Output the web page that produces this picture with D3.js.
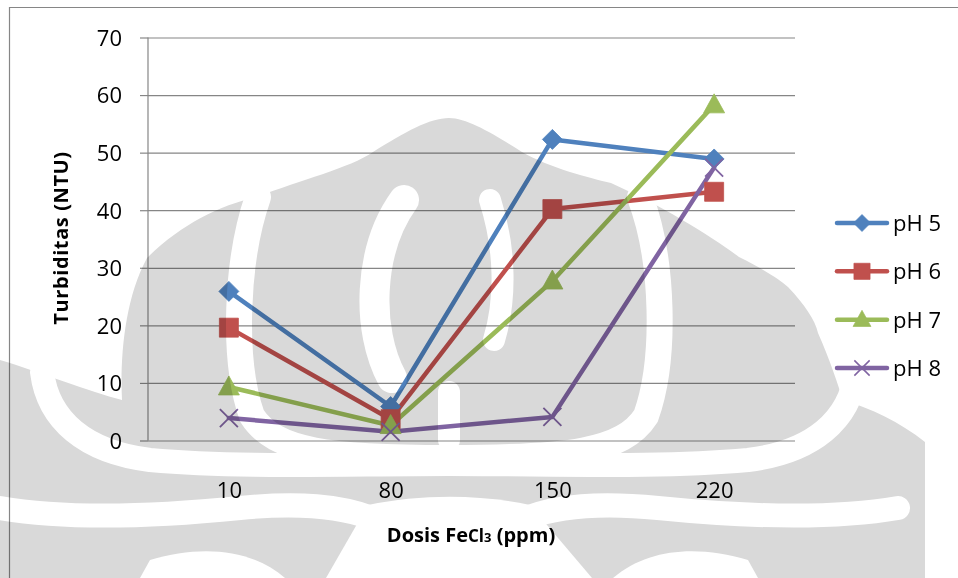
<!DOCTYPE html>
<html>
<head>
<meta charset="utf-8">
<script src="https://cdn.jsdelivr.net/npm/d3@7"></script>
<style>
  html, body { margin: 0; padding: 0; background: #ffffff; }
  svg { display: block; }
  text { font-family: "Open Sans", "Noto Sans", sans-serif; fill: #000; }
</style>
</head>
<body>
<svg id="chart" width="958" height="578"></svg>
<script>
// Dose categories (ppm FeCl3) and turbidity readings (NTU) per pH
const categories = ["10", "80", "150", "220"];
const seriesNames = ["pH 5", "pH 6", "pH 7", "pH 8"];
const pH5 = [25.9, 5.9, 52.3, 48.9];
const pH6 = [19.6, 3.7, 40.2, 43.2];
const pH7 = [9.3, 2.6, 27.7, 58.3];
const pH8 = [3.9, 1.5, 4.1, 47.4];
const yTicks = [0, 10, 20, 30, 40, 50, 60, 70];

const series = [
  { name: seriesNames[0], values: pH5, color: "#4F81BD", marker: "diamond" },
  { name: seriesNames[1], values: pH6, color: "#C0504D", marker: "square" },
  { name: seriesNames[2], values: pH7, color: "#9BBB59", marker: "triangle" },
  { name: seriesNames[3], values: pH8, color: "#8064A2", marker: "cross" }
];

const svg = d3.select("#chart");
const plot = { left: 148, right: 795, top: 37.5, bottom: 440.5 };
const gridColor = "#868686";

const x = d3.scalePoint().domain(categories).range([plot.left, plot.right]).padding(0.5);
const y = d3.scaleLinear().domain([0, 70]).range([plot.bottom, plot.top]);

// outer chart frame
svg.append("path")
  .attr("d", "M9.5,578 L9.5,7.5 L958,7.5")
  .attr("fill", "none").attr("stroke", gridColor).attr("stroke-width", 1.2);

// y axis with gridlines
const yAxis = d3.axisLeft(y).tickValues(yTicks).tickSize(8).tickPadding(18).tickFormat(d3.format("d"));
const gy = svg.append("g").attr("transform", `translate(${plot.left},0)`).call(yAxis);
gy.select(".domain").attr("stroke", gridColor).attr("stroke-width", 1.2).attr("d", `M0,${plot.top}V${plot.bottom}`);
gy.selectAll(".tick line").attr("stroke", gridColor).attr("stroke-width", 1.2);
gy.selectAll(".tick").append("line")
  .attr("x1", 0).attr("x2", plot.right - plot.left)
  .attr("stroke", gridColor).attr("stroke-width", 1.2);
gy.selectAll(".tick text").attr("font-size", 22).attr("font-family", "Open Sans").attr("fill", "#000").attr("dy", "0.36em");

// x axis labels
const xAxis = d3.axisBottom(x).tickSize(0).tickPadding(42);
const gx = svg.append("g").attr("transform", `translate(0,${plot.bottom})`).call(xAxis);
gx.select(".domain").remove();
gx.selectAll(".tick text").attr("font-size", 22).attr("font-family", "Open Sans").attr("fill", "#000");

// axis titles
svg.append("text")
  .attr("transform", "translate(68,238) rotate(-90)")
  .attr("text-anchor", "middle")
  .attr("font-size", 20).attr("font-weight", "bold").attr("letter-spacing", "0.6")
  .text("Turbiditas (NTU)");

const xt = svg.append("text").attr("x", 471).attr("y", 542).attr("text-anchor", "middle")
  .attr("font-weight", "bold").attr("font-size", 20);
xt.append("tspan").text("Dosis Fe");
xt.append("tspan").attr("font-size", 17).text("Cl");
xt.append("tspan").attr("font-size", 13).text("3");
xt.append("tspan").text(" (ppm)");

// marker symbols
function markerPath(type) {
  if (type === "diamond") return "M0,-10L10,0L0,10L-10,0Z";
  if (type === "square") return "M-9.5,-9.5H9.5V9.5H-9.5Z";
  if (type === "triangle") return "M0,-11L10.5,8L-10.5,8Z";
  return "M-9,-9L9,9M-9,9L9,-9";
}
function drawMarker(g, s, cx, cy, scale) {
  const p = g.append("path")
    .attr("d", markerPath(s.marker))
    .attr("transform", `translate(${cx},${cy}) scale(${scale})`);
  if (s.marker === "cross") p.attr("fill", "none").attr("stroke", s.color).attr("stroke-width", 1.8);
  else p.attr("fill", s.color).attr("stroke", s.color).attr("stroke-width", 0.8);
}

// series lines and markers
const line = d3.line().x((d, i) => x(categories[i])).y(d => y(d));
const gs = svg.append("g");
series.forEach(s => {
  gs.append("path").datum(s.values).attr("d", line)
    .attr("fill", "none").attr("stroke", s.color).attr("stroke-width", 4.5)
    .attr("stroke-linejoin", "round").attr("stroke-linecap", "round");
});
series.forEach(s => {
  s.values.forEach((v, i) => drawMarker(gs, s, x(categories[i]), y(v), 1));
});

// legend
const legendRows = d3.scaleLinear().domain([0, 3]).range([223, 368]);
const lg = svg.append("g");
series.forEach((s, i) => {
  const ly = legendRows(i);
  lg.append("line").attr("x1", 837).attr("x2", 887).attr("y1", ly).attr("y2", ly)
    .attr("stroke", s.color).attr("stroke-width", 4.5).attr("stroke-linecap", "round");
  drawMarker(lg, s, 862, ly, 0.85);
  lg.append("text").attr("x", 893).attr("y", ly).attr("dy", "0.36em")
    .attr("font-size", 22).text(s.name);
});

// faint emblem printed behind the page content (multiplied over the chart)
const crestFill =
  "M0,360 C40,372 90,392 122,400 C120,360 124,300 147,258 C180,225 220,205 257,197 " +
  "C300,180 350,168 373,152 C405,132 430,118 449,118 C468,118 495,135 522,152 " +
  "C550,168 590,178 611,183 C660,205 710,235 739,257 C765,270 780,280 788,287 " +
  "C805,305 815,320 818,333 C830,360 838,385 843,400 C870,408 900,422 925,442 " +
  "L925,578 L0,578 Z";
const crestCuts = [
  { d: "M258,197 C236,260 232,360 252,416 C275,452 330,458 449,458 C568,458 623,452 646,416 C666,360 664,260 640,197", w: 26 },
  { d: "M404,200 C368,250 366,330 392,378", w: 30 },
  { d: "M490,200 C506,250 506,300 494,340", w: 22 },
  { d: "M449,392 L449,440", w: 22 },
  { d: "M42,372 C48,420 85,452 150,460 C240,468 340,464 449,464", w: 24 },
  { d: "M856,372 C850,420 813,452 748,460 C658,468 558,464 449,464", w: 24 },
  { d: "M0,508 C70,520 160,516 240,508 C300,502 340,506 372,518", w: 24 },
  { d: "M898,508 C828,520 738,516 658,508 C598,502 558,506 526,518", w: 24 }
];
const crestHoles = [
  "M368,505 C420,494 480,494 530,505 L592,578 L326,578 Z",
  "M150,560 C200,545 250,548 285,578 L140,578 Z",
  "M748,560 C698,545 648,548 613,578 L758,578 Z"
];
const crest = svg.append("g").style("mix-blend-mode", "multiply");
crest.append("path").attr("d", crestFill).attr("fill", "#d9d9d9");
crestCuts.forEach(c => crest.append("path").attr("d", c.d).attr("fill", "none")
  .attr("stroke", "#ffffff").attr("stroke-width", c.w).attr("stroke-linecap", "round"));
crestHoles.forEach(d => crest.append("path").attr("d", d).attr("fill", "#ffffff"));
</script>
</body>
</html>
